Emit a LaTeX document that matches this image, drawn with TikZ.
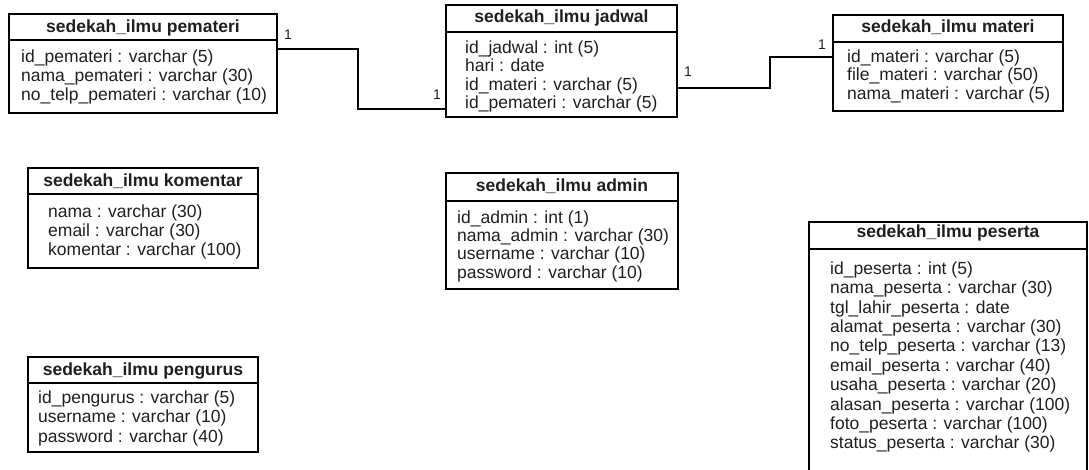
\documentclass[tikz,border=0pt]{standalone}
\usepackage{fontspec}
\setmainfont{Liberation Sans}
\begin{document}
\begin{tikzpicture}[x=1pt,y=-1pt,
  tbox/.style={draw=black,line width=2.6pt,inner sep=0,outer sep=0},
  divline/.style={draw=black,line width=2.4pt},
  conn/.style={draw=black,line width=2pt},
  ttl/.style={font=\fontsize{17.5}{20}\selectfont\bfseries,text=black!88,anchor=base,inner sep=0},
  bodytxt/.style={font=\fontsize{17.5}{#1}\selectfont,text=black!88,align=left,anchor=north west,inner sep=0},
  lbl/.style={font=\fontsize{14}{14}\selectfont,text=black!88,inner sep=0}]
\useasboundingbox (0,0) rectangle (1089,470);
\newcommand{\fl}{\rule{0pt}{13pt}}
% pemateri
\node[tbox,minimum width=268pt,minimum height=99pt] (pem) at (143,63.5) {};
\draw[divline] (pem.west |- 0,40) -- (pem.east |- 0,40);
\node[ttl] (pemT) at (143,33) {sedekah\_ilmu pemateri};
\node[bodytxt=19] (pemB) at (21,49) {\fl id\_pemateri : varchar (5)\\nama\_pemateri : varchar (30)\\no\_telp\_pemateri : varchar (10)};
% jadwal
\node[tbox,minimum width=231pt,minimum height=112pt] (jad) at (561.5,61) {};
\draw[divline] (jad.west |- 0,32) -- (jad.east |- 0,32);
\node[ttl] (jadT) at (561.5,23) {sedekah\_ilmu jadwal};
\node[bodytxt=18.3] (jadB) at (465,40.3) {\fl id\_jadwal : int (5)\\hari : date\\id\_materi : varchar (5)\\id\_pemateri : varchar (5)};
% materi
\node[tbox,minimum width=230pt,minimum height=96pt] (mat) at (948,63) {};
\draw[divline] (mat.west |- 0,42) -- (mat.east |- 0,42);
\node[ttl] (matT) at (948,33) {sedekah\_ilmu materi};
\node[bodytxt=18.5] (matB) at (847,49) {\fl id\_materi : varchar (5)\\file\_materi : varchar (50)\\nama\_materi : varchar (5)};
% komentar
\node[tbox,minimum width=230pt,minimum height=100pt] (kom) at (143,218) {};
\draw[divline] (kom.west |- 0,194) -- (kom.east |- 0,194);
\node[ttl] (komT) at (143,187) {sedekah\_ilmu komentar};
\node[bodytxt=19] (komB) at (48,204) {\fl nama : varchar (30)\\email : varchar (30)\\komentar : varchar (100)};
% admin
\node[tbox,minimum width=232pt,minimum height=116pt] (adm) at (562,231) {};
\draw[divline] (adm.west |- 0,201) -- (adm.east |- 0,201);
\node[ttl] (admT) at (562,192) {sedekah\_ilmu admin};
\node[bodytxt=18.3] (admB) at (457,210) {\fl id\_admin : int (1)\\nama\_admin : varchar (30)\\username : varchar (10)\\password : varchar (10)};
% pengurus
\node[tbox,minimum width=230pt,minimum height=95pt] (pen) at (143,404.5) {};
\draw[divline] (pen.west |- 0,383) -- (pen.east |- 0,383);
\node[ttl] (penT) at (143,375) {sedekah\_ilmu pengurus};
\node[bodytxt=19.5] (penB) at (38,390) {\fl id\_pengurus : varchar (5)\\username : varchar (10)\\password : varchar (40)};
% peserta
\node[tbox,minimum width=278pt,minimum height=252pt] (pes) at (948,348) {};
\draw[divline] (pes.west |- 0,249) -- (pes.east |- 0,249);
\node[ttl] (pesT) at (948,238) {sedekah\_ilmu peserta};
\node[bodytxt=19.4] (pesB) at (830,261) {\fl id\_peserta : int (5)\\nama\_peserta : varchar (30)\\tgl\_lahir\_peserta : date\\alamat\_peserta : varchar (30)\\no\_telp\_peserta : varchar (13)\\email\_peserta : varchar (40)\\usaha\_peserta : varchar (20)\\alasan\_peserta : varchar (100)\\foto\_peserta : varchar (100)\\status\_peserta : varchar (30)};
% connectors
\coordinate (c1) at (358,49);
\coordinate (c2) at (358,109);
\draw[conn] (pem.east |- c1) -- (c1) -- (c2) -- (jad.west |- c2);
\coordinate (c3) at (770,88);
\coordinate (c4) at (770,57);
\draw[conn] (jad.east |- c3) -- (c3) -- (c4) -- (mat.west |- c4);
\node[lbl] (l1) at (288,35) {1};
\node[lbl] (l2) at (437,95) {1};
\node[lbl] (l3) at (688,72) {1};
\node[lbl] (l4) at (822,45) {1};
\end{tikzpicture}
\end{document}
